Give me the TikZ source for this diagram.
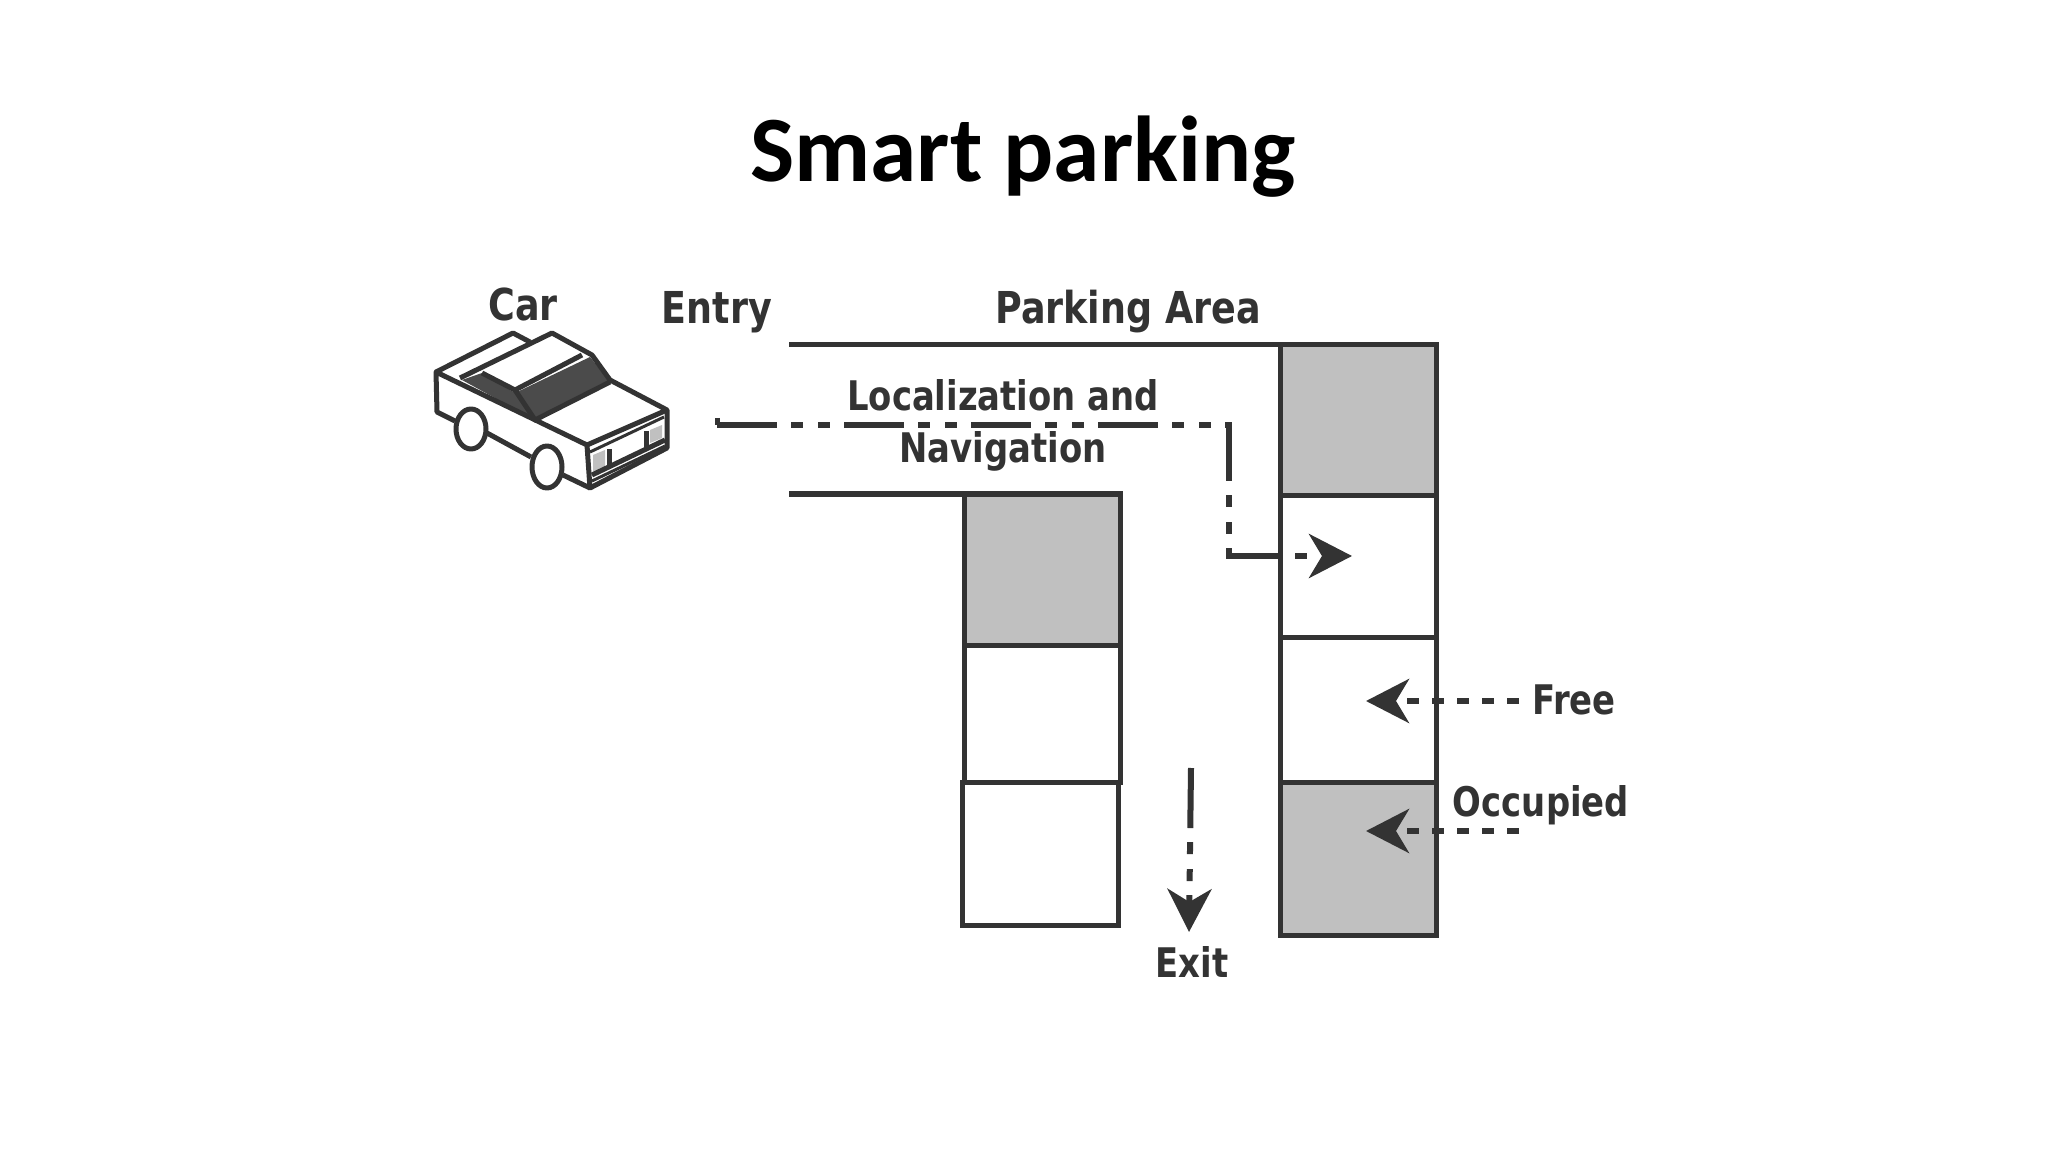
\documentclass[tikz,border=0pt]{standalone}
\usepackage{fontspec}
\usepackage{xcolor}
\usetikzlibrary{arrows.meta, calc, positioning}
\setmainfont{Carlito}
\newfontfamily\tagfont[FakeStretch=0.83]{DejaVu Sans}
\definecolor{InkGray}{RGB}{51, 51, 51}
\definecolor{SlotGray}{RGB}{192, 192, 192}
\definecolor{GlassGray}{RGB}{75, 75, 75}

\begin{document}
\begin{tikzpicture}[
        x=0.01cm, y=-0.01cm,
        node distance = 0cm,
        slotbox/.style = {draw=InkGray, line width=0.05cm, minimum width=1.56cm, inner sep=0pt, outer sep=0pt},
        taken/.style = {slotbox, fill=SlotGray},
        tag/.style = {text=InkGray, font=\tagfont\bfseries\fontsize{12.5}{14.8}\selectfont, align=center, inner sep=0pt},
        smalltag/.style = {tag, font=\tagfont\bfseries\fontsize{11.6}{14.8}\selectfont},
        wall/.style = {draw=InkGray, line width=0.05cm},
        navline/.style = {draw=InkGray, line width=0.06cm, -{Stealth[length=0.43cm, width=0.44cm, inset=0.13cm]},
            dash pattern=on 0.6cm off 0.14cm on 0.12cm off 0.15cm on 0.12cm off 0.14cm},
        tagline/.style = {draw=InkGray, line width=0.06cm, -{Stealth[length=0.43cm, width=0.44cm, inset=0.13cm]},
            dash pattern=on 0.12cm off 0.13cm},
        carline/.style = {draw=InkGray, line width=0.05cm, line join=round},
        railline/.style = {draw=InkGray, line width=0.03cm}
    ]
        \useasboundingbox (0,0) rectangle (2048,1152);

        % Title
        \node (title) [font=\bfseries\fontsize{26.6}{30}\selectfont, anchor=base] at (1023,182) {Smart parking};

        % Labels
        \node (car_tag) [tag, anchor=base] at (523,321) {Car};
        \node (entry_tag) [tag, anchor=base] at (717,324) {Entry};
        \node (area_tag) [tag, anchor=base] at (1128,324) {Parking Area};
        \node (nav_tag) [smalltag] at (1003,425) {Localization and\\Navigation};
        \node (exit_tag) [smalltag, anchor=base] at (1192,977) {Exit};
        \node (free_tag) [smalltag, anchor=base] at (1574,714) {Free};
        \node (occupied_tag) [smalltag, anchor=base] at (1541,816) {Occupied};

        % Right column of slots
        \node (right_a) [taken, minimum height=1.5cm, anchor=north west] at (1280,345) {};
        \node (right_b) [slotbox, minimum height=1.42cm, below=of right_a] {};
        \node (right_c) [slotbox, minimum height=1.45cm, below=of right_b] {};
        \node (right_d) [taken, minimum height=1.53cm, below=of right_c] {};

        % Left column of slots
        \node (left_a) [taken, minimum height=1.51cm, anchor=north west] at (964,494) {};
        \node (left_b) [slotbox, minimum height=1.37cm, below=of left_a] {};
        \node (left_c) [slotbox, minimum height=1.43cm, below=of left_b, xshift=-0.02cm] {};

        % Road walls
        \coordinate (wall_top) at (789,345);
        \coordinate (wall_low) at (789,494);
        \draw [wall] (wall_top) -- (right_a.north west);
        \draw [wall] (wall_low) -- (left_a.north west);

        % Route to the free slot
        \coordinate (nav_tick) at (717,418);
        \coordinate (nav_start) at (717,425);
        \coordinate (nav_bend) at (1229,425);
        \coordinate (nav_low) at (1229,556);
        \coordinate (nav_end) at (1352,556);
        \draw [wall] (nav_tick) -- (nav_start);
        \draw [navline] (nav_start) -- (nav_bend) -- (nav_low) -- (nav_end);

        % Exit
        \coordinate (exit_start) at (1191,768);
        \coordinate (exit_end) at (1189,932);
        \draw [navline] (exit_start) -- (exit_end);

        % Free and occupied
        \coordinate (free_start) at (1519,701);
        \coordinate (free_end) at (1366,701);
        \coordinate (occupied_start) at (1519,831);
        \coordinate (occupied_end) at (1366,831);
        \draw [tagline] (free_start) -- (free_end);
        \draw [tagline] (occupied_start) -- (occupied_end);

        % Car
        \fill [GlassGray] (462,380) -- (482,373) -- (515,393) -- (535,420) -- cycle;
        \fill [GlassGray] (515,393) -- (590,357) -- (610,382) -- (535,420) -- cycle;
        \fill [SlotGray] (593,455) -- (605,450) -- (605,467) -- (593,472) -- cycle;
        \fill [SlotGray] (650,430) -- (662,425) -- (662,438) -- (650,443) -- cycle;
        \draw [carline] (436,372) -- (513,333) -- (530,342);
        \draw [carline] (460,378) -- (552,333) -- (592,355) -- (610,380) -- (667,410) -- (667,448) -- (590,488) -- (587,445) -- (436,372) -- (437,412) -- (455,421);
        \draw [carline] (487,433) -- (531,457);
        \draw [carline] (563,475) -- (590,488);
        \draw [carline] (482,373) -- (515,390) -- (582,355);
        \draw [carline] (515,390) -- (535,420) -- (610,382);
        \draw [carline] (587,445) -- (667,410);
        \draw [railline] (590,452) -- (664,417);
        \draw [carline] (592,475) -- (665,440);
        \draw [railline] (592,481) -- (665,446);
        \draw [carline] (609,449) -- (609,467);
        \draw [carline] (646,431) -- (646,449);
        \draw [carline] (471,429) ellipse [x radius=15, y radius=20];
        \draw [carline] (547,467) ellipse [x radius=15, y radius=21];
    \end{tikzpicture}
\end{document}
